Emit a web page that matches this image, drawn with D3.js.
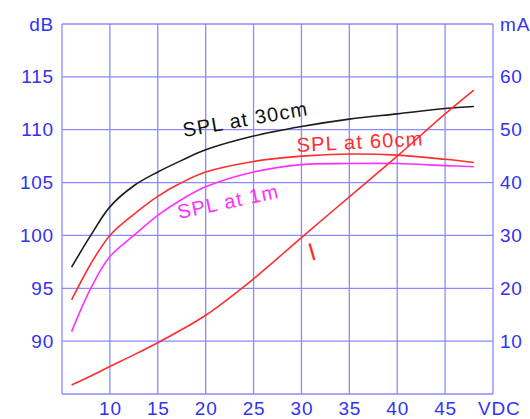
<!DOCTYPE html>
<html>
<head>
<meta charset="utf-8">
<script src="https://d3js.org/d3.v7.min.js"></script>
<style>
  html, body { margin: 0; padding: 0; background: #fff; }
  svg { display: block; font-family: "Liberation Sans", Arial, sans-serif; }
</style>
</head>
<body>
<svg id="chart" width="530" height="419"></svg>
<script>
// Supply voltage (VDC) sample points
const vdc = [6, 8, 10, 12.5, 15, 17.5, 20, 25, 30, 35, 40, 45, 48];

// Sound pressure level, dB (left axis)
const spl30cm = [97.0, 100.0, 102.7, 104.7, 106.0, 107.1, 108.1, 109.4, 110.3, 111.0, 111.5, 112.0, 112.2];
const spl60cm = [93.9, 97.3, 100.0, 102.0, 103.7, 105.0, 106.0, 107.0, 107.5, 107.7, 107.6, 107.2, 106.9];
const spl1m   = [90.9, 95.0, 98.0, 100.0, 101.9, 103.4, 104.6, 106.0, 106.7, 106.8, 106.8, 106.6, 106.5];

// Current draw, mA (right axis)
const current = [1.7, 3.4, 5.2, 7.4, 9.7, 12.2, 14.9, 21.8, 29.6, 37.3, 45.0, 53.0, 57.5];

// Tick labels
const xTicks = [10, 15, 20, 25, 30, 35, 40, 45];
const dbTicks = [90, 95, 100, 105, 110, 115];
const maTicks = [10, 20, 30, 40, 50, 60];

const gridColor = '#8a8aff';
const axisColor = '#3232f2';
const red = '#ff2d2d';
const magenta = '#ff30ff';

const svg = d3.select('#chart');
const margin = { top: 24, right: 37, bottom: 25, left: 62 };
const width = 530 - margin.left - margin.right;
const height = 419 - margin.top - margin.bottom;

const g = svg.append('g').attr('transform', `translate(${margin.left},${margin.top})`);

const x = d3.scaleLinear().domain([5, 50]).range([0, width]);
const yDb = d3.scaleLinear().domain([85, 120]).range([height, 0]);
const yMa = d3.scaleLinear().domain([0, 70]).range([height, 0]);

// grid (every 5 V, every 5 dB) incl. the frame
const grid = g.append('g')
  .attr('stroke', gridColor)
  .attr('stroke-width', 1.3);

grid.selectAll('line.v')
  .data(d3.range(5, 51, 5))
  .join('line')
  .attr('x1', d => x(d)).attr('x2', d => x(d))
  .attr('y1', 0).attr('y2', height);

grid.selectAll('line.h')
  .data(d3.range(85, 121, 5))
  .join('line')
  .attr('y1', d => yDb(d)).attr('y2', d => yDb(d))
  .attr('x1', 0).attr('x2', width);

// axes: labels only
function styleAxis(sel) {
  sel.select('.domain').remove();
  sel.selectAll('.tick line').remove();
  sel.selectAll('text')
    .attr('fill', axisColor)
    .style('font-size', '19px')
    .style('letter-spacing', '0.8px');
}

g.append('g')
  .call(d3.axisLeft(yDb).tickValues(dbTicks.concat([120]))
    .tickFormat(d => d === 120 ? 'dB' : d).tickSize(0).tickPadding(8))
  .call(styleAxis);

g.append('g')
  .attr('transform', `translate(${width},0)`)
  .call(d3.axisRight(yMa).tickValues(maTicks.concat([70]))
    .tickFormat(d => d === 70 ? 'mA' : d).tickSize(0).tickPadding(7))
  .call(styleAxis);

g.append('g')
  .attr('transform', `translate(0,${height})`)
  .call(d3.axisBottom(x).tickValues(xTicks).tickSize(0).tickPadding(8))
  .call(styleAxis);

g.append('text')
  .attr('x', x(50) - 15)
  .attr('y', height + 8)
  .attr('dy', '0.71em')
  .attr('fill', axisColor)
  .style('font-size', '19px')
  .style('letter-spacing', '0.8px')
  .text('VDC');

// curves
const lineDb = d3.line()
  .x((d, i) => x(vdc[i]))
  .y(d => yDb(d))
  .curve(d3.curveCatmullRom.alpha(0.5));

const lineMa = d3.line()
  .x((d, i) => x(vdc[i]))
  .y(d => yMa(d))
  .curve(d3.curveCatmullRom.alpha(0.5));

const series = [
  { values: spl30cm, color: '#1c1c1c', line: lineDb },
  { values: spl60cm, color: red, line: lineDb },
  { values: spl1m, color: magenta, line: lineDb },
  { values: current, color: red, line: lineMa }
];

g.selectAll('path.curve')
  .data(series)
  .join('path')
  .attr('class', 'curve')
  .attr('fill', 'none')
  .attr('stroke', d => d.color)
  .attr('stroke-width', 1.6)
  .attr('d', d => d.line(d.values));

// curve labels
const labels = [
  { text: 'SPL at 30cm', x: 184, y: 137, rot: -10, color: '#111', size: 20 },
  { text: 'SPL at 60cm', x: 297, y: 152, rot: -3, color: red, size: 20 },
  { text: 'SPL at 1m', x: 179, y: 219, rot: -12, color: magenta, size: 20 },
  { text: 'I', x: 311, y: 261, rot: -16, color: red, size: 25 }
];

svg.selectAll('text.lbl')
  .data(labels)
  .join('text')
  .attr('class', 'lbl')
  .attr('transform', d => `translate(${d.x},${d.y}) rotate(${d.rot})`)
  .attr('fill', d => d.color)
  .style('font-size', d => d.size + 'px')
  .style('letter-spacing', '1.2px')
  .text(d => d.text);
</script>
</body>
</html>
